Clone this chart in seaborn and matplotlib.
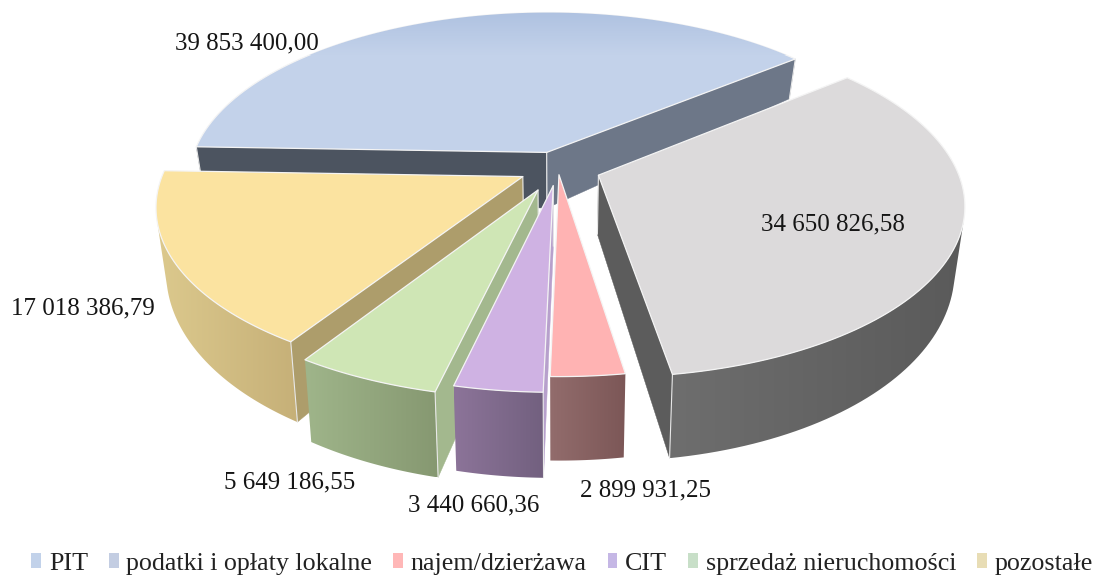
import numpy as np
import matplotlib
matplotlib.use('Agg')
import matplotlib.pyplot as plt
from matplotlib.colors import LinearSegmentedColormap
from matplotlib.patches import Patch, Polygon
import seaborn as sns

# dane z wykresu
categories = ['PIT', 'podatki i opłaty lokalne', 'najem/dzierżawa', 'CIT', 'sprzedaż nieruchomości', 'pozostałe']
values = [39853400.00, 34650826.58, 2899931.25, 3440660.36, 5649186.55, 17018386.79]
explode = [0.10, 0.12, 0.04, 0.105, 0.14, 0.11]

top_colors = ['#C3D2EA', '#DCDADB', '#FFB3B3', '#CFB2E3', '#CFE6B5', '#FBE3A0']
wall_left = ['#6D7788', '#6E6E6E', '#926C6C', '#8C7499', '#9FB58A', '#DCC98D']
wall_right = ['#6D7788', '#5A5A5A', '#7C5757', '#72607F', '#869871', '#C6B078']
cut_high = ['#4C5460', '#5C5C5C', '#8A6A6A', '#B7A0CC', '#A3B88E', '#AD9D6B']
cut_low = ['#6D7788', '#5C5C5C', '#8A6A6A', '#B7A0CC', '#A3B88E', '#AD9D6B']
legend_colors = ['#C2D2EA', '#C3CDE2', '#FFB7B7', '#C5B7E5', '#C8DFC8', '#E8DDB5']

label_pos = [(247, 43), (833, 224), (645, 490), (474, 505), (290, 482), (83, 308)]
draw_order = [0, 1, 5, 4, 3, 2]

# parametry rzutu
CX, CY, R, A, K = 558, 168, 358, 167, 0.161


def proj(u, v, z=0.0):
    s = 1 / (1 + K * v)
    x = CX + R * u * s
    y = CY - A * v * s
    # z = 1 to dolna podstawa
    return CX + (x - CX) * (1 - 0.025 * z), y + z * (58 - 25 * v)


def fmt(v):
    return '{:,.2f}'.format(v).replace(',', ' ').replace('.', ',')


sns.set_theme(style='white')
plt.rcParams['font.family'] = ['Liberation Serif', 'DejaVu Serif']

fig = plt.figure(figsize=(10.97, 5.75), dpi=100)
ax = fig.add_axes([0, 0, 1, 1])

wedges, _ = ax.pie(values, explode=explode, startangle=178, counterclock=False, radius=1)
ax.set_aspect('auto')
ax.axis('off')

zo = 1.0


def next_z():
    global zo
    zo += 0.01
    return zo


def facing(pts):
    x, y = pts[:, 0], pts[:, 1]
    return np.sum(x * np.roll(y, -1) - np.roll(x, -1) * y) < 0


def edge_quad(a, b):
    return np.array([proj(*a), proj(*b), proj(*b, 1), proj(*a, 1)])


for i in draw_order:
    w = wedges[i]
    w.set_visible(False)
    c0, c1 = w.center
    th = np.radians(np.linspace(w.theta2, w.theta1, 90))
    us = c0 + w.r * np.cos(th)
    vs = c1 + w.r * np.sin(th)

    # sciana zewnetrzna z gradientem, tylko widoczny fragment
    vis = [j for j in range(len(th) - 1)
           if facing(edge_quad((us[j], vs[j]), (us[j + 1], vs[j + 1])))]
    if vis:
        idx = np.arange(vis[0], vis[-1] + 2)
        tx, ty = proj(us[idx], vs[idx])
        bx, by = proj(us[idx], vs[idx], 1)
        poly = np.r_[np.c_[tx, ty], np.c_[bx, by][::-1]]
        cmap = LinearSegmentedColormap.from_list('w%d' % i, [wall_left[i], wall_right[i]])
        grad = np.linspace(0, 1, 128).reshape(1, -1)
        im = ax.imshow(grad, cmap=cmap, aspect='auto', zorder=next_z(),
                       extent=(poly[:, 0].min(), poly[:, 0].max(), poly[:, 1].max(), poly[:, 1].min()))
        im.set_clip_path(Polygon(poly, closed=True, transform=ax.transData))

    # sciany przeciecia
    for a, b, col in [((c0, c1), (us[0], vs[0]), cut_high[i]),
                      ((us[-1], vs[-1]), (c0, c1), cut_low[i])]:
        p = edge_quad(a, b)
        if facing(p):
            ax.add_patch(Polygon(p, closed=True, facecolor=col, edgecolor=col, lw=0.3, zorder=next_z()))
            ax.plot(p[[1, 2], 0], p[[1, 2], 1], color='#E8E8E8', lw=0.8, zorder=next_z())
            ax.plot(p[[0, 3], 0], p[[0, 3], 1], color='#E8E8E8', lw=0.8, zorder=next_z())

    top_x, top_y = proj(np.r_[c0, us], np.r_[c1, vs])
    ax.add_patch(Polygon(np.c_[top_x, top_y], closed=True, facecolor=top_colors[i],
                         edgecolor='#F4F4F4', lw=0.9, joinstyle='round', zorder=next_z()))

    if i == 0:
        # ciemniejszy pas z tylu wycinka PIT
        cmap = LinearSegmentedColormap.from_list('pit', ['#AFC2E1', top_colors[0]])
        grad = np.linspace(0, 1, 64).reshape(-1, 1)
        im = ax.imshow(grad, cmap=cmap, extent=(150, 850, 55, 12), aspect='auto', zorder=next_z())
        im.set_clip_path(Polygon(np.c_[top_x, top_y], closed=True, transform=ax.transData))

ax.set_xlim(0, 1097)
ax.set_ylim(575, 0)
ax.set_aspect('auto')

for v, (x, y) in zip(values, label_pos):
    ax.text(x, y, fmt(v), ha='center', va='center', fontsize=18, color='#151515', zorder=5)

handles = [Patch(facecolor=c, edgecolor='none') for c in legend_colors]
ax.legend(handles, categories, ncol=6, loc='center', bbox_to_anchor=(562 / 1097, 1 - 564 / 575),
          frameon=False, fontsize=18.7, handlelength=0.38, handleheight=0.5, handletextpad=0.3,
          columnspacing=0.8, borderpad=0, labelcolor='#222222')

fig.savefig('out.png', dpi=100)
